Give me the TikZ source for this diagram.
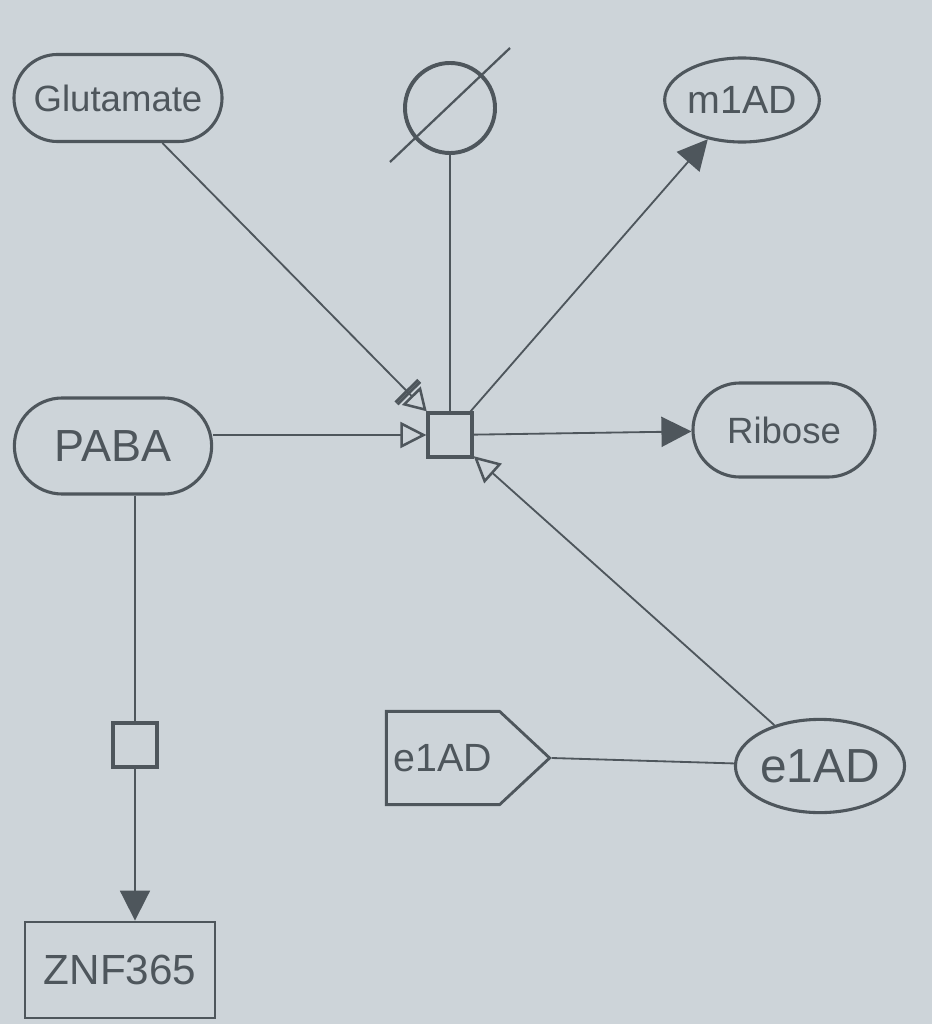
\documentclass[tikz,border=0pt]{standalone}
\usepackage{fontspec}
\setmainfont{Liberation Sans}
\usetikzlibrary{arrows.meta,shapes.geometric,shapes.misc,shapes.symbols}
\definecolor{ink}{HTML}{4E565C}
\definecolor{paper}{HTML}{CDD4D9}

\begin{document}
\begin{tikzpicture}[x=0.025cm,y=-0.025cm,color=ink,
    simple chem/.style={rounded rectangle,draw,line width=2.2pt,inner sep=0pt,font=\fontsize{26}{30}\selectfont},
    macro node/.style={ellipse,draw,line width=2.2pt,inner sep=0pt,font=\fontsize{28}{32}\selectfont},
    process node/.style={rectangle,draw,line width=2.4pt,minimum size=1.1cm,inner sep=0pt},
    tag node/.style={signal,signal to=east,signal pointer angle=86,draw,line width=2pt,inner sep=0pt,font=\fontsize{28}{32}\selectfont},
    prod/.style={-{Triangle[length=0.75cm,width=0.75cm]}},
    stim/.style={-{Triangle[open,length=0.65cm,width=0.65cm,line width=1.8pt]}},
    need stim/.style={-{Bar[width=0.8cm,line width=2pt]Bar[width=0.8cm,line width=2pt,sep=1.5pt]Triangle[open,length=0.55cm,width=0.65cm,line width=1.8pt]}}]
    \fill [paper] (0,0) rectangle (932,1024);
    \useasboundingbox (0,0) rectangle (932,1024);

    \node [simple chem, minimum width=5.2cm, minimum height=2.175cm](1) at (118,98) {Glutamate};
    \node [circle, draw, line width=2.8pt, minimum size=2.25cm](2) at (450,108) {};
    \node [macro node, minimum width=3.85cm, minimum height=2.1cm](3) at (742,100) {m1AD};
    \node [simple chem, minimum width=4.93cm, minimum height=2.4cm, font=\fontsize{32}{36}\selectfont](4) at (113,446) {PABA};
    \node [process node](5) at (450,435) {};
    \node [simple chem, minimum width=4.55cm, minimum height=2.35cm](6) at (784,430) {Ribose};
    \node [process node](7) at (135,745) {};
    \node [rectangle, draw, line width=2pt, minimum width=4.75cm, minimum height=2.4cm, font=\fontsize{30}{34}\selectfont](8) at (120,970) {ZNF365};
    \node [tag node, minimum width=4.08cm, minimum height=2.33cm](9) at (443,758) {e1AD};
    \node [macro node, minimum width=4.15cm, minimum height=2.33cm, font=\fontsize{34}{38}\selectfont](10) at (820,766) {e1AD};

    % slash of the empty set
    \draw [line width=1.6pt] ([shift={(-60,54)}]2.center) -- ([shift={(60,-60)}]2.center);

    \path [line width=1.3pt]
        (1) edge [need stim] (5)
        (2) edge (5)
        (5) edge [prod] (3)
        (4.east |- 5.west) edge [stim] (5.west)
        (5) edge [prod] (6)
        (10) edge [stim] (5)
        (9.east) edge (10)

        (4.south -| 7.north) edge (7.north)
        (7.south) edge [prod] (7.south |- 8.north)
        ;
\end{tikzpicture}
\end{document}
